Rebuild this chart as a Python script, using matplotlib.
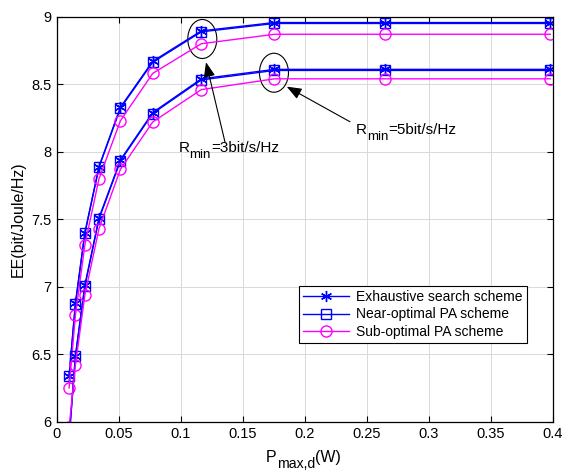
import numpy as np
import matplotlib
matplotlib.use("Agg")
import matplotlib.pyplot as plt
from matplotlib.patches import Ellipse

plt.rcParams["font.family"] = ["Liberation Sans", "DejaVu Sans"]

# P_max,d (W)
p_max = [0.01, 0.0151, 0.0227, 0.0341, 0.0514, 0.0774, 0.1166, 0.1756, 0.2644, 0.398]

# R_min = 3 bit/s/Hz
exh_r3 = [6.34, 6.88, 7.40, 7.89, 8.33, 8.67, 8.895, 8.957, 8.957, 8.957]
near_r3 = [6.335, 6.875, 7.395, 7.885, 8.322, 8.662, 8.888, 8.95, 8.95, 8.95]
sub_r3 = [6.25, 6.79, 7.31, 7.80, 8.23, 8.58, 8.80, 8.87, 8.87, 8.87]

# R_min = 5 bit/s/Hz
exh_r5 = [5.88, 6.49, 7.01, 7.51, 7.94, 8.29, 8.54, 8.61, 8.61, 8.61]
near_r5 = [5.875, 6.485, 7.005, 7.502, 7.932, 8.283, 8.532, 8.602, 8.602, 8.602]
sub_r5 = [5.96, 6.42, 6.94, 7.43, 7.87, 8.22, 8.46, 8.54, 8.54, 8.54]

blue = (0, 0, 1)
magenta = (1, 0, 1)
asterisk = (6, 2, 0)


def sub_text(ax, x, y, base, sub, rest, size, coords, drop=5):
    """MATLAB-style subscript: base, lowered sub, then rest back on the baseline."""
    t1 = ax.annotate(base, xy=(x, y), xycoords=coords, fontsize=size,
                     va="baseline", ha="left", annotation_clip=False)
    t2 = ax.annotate(sub, xy=(1, 0), xycoords=t1, xytext=(0, -drop),
                     textcoords="offset points", fontsize=size * 0.88,
                     va="bottom", ha="left", annotation_clip=False)
    t3 = ax.annotate(rest, xy=(1, 0), xycoords=(t2, t1), xytext=(0, 0),
                     textcoords="offset points", fontsize=size,
                     va="bottom", ha="left", annotation_clip=False)
    return t1, t2, t3


fig = plt.figure(figsize=(5.65, 4.71), dpi=100)
ax = fig.add_axes([0.1004, 0.1047, 0.8778, 0.8598])

for exh, near, sub in [(exh_r3, near_r3, sub_r3), (exh_r5, near_r5, sub_r5)]:
    ax.plot(p_max, exh, "-", color=blue, lw=1, marker=asterisk, ms=8, mew=1,
            label="Exhaustive search scheme")
    ax.plot(p_max, near, "-", color=blue, lw=1, marker="s", ms=7, mfc="none",
            mew=1, label="Near-optimal PA scheme")
    ax.plot(p_max, sub, "-", color=magenta, lw=1, marker="o", ms=8, mfc="none",
            mew=1, label="Sub-optimal PA scheme")

# ellipses marking the two R_min groups
ax.add_patch(Ellipse((0.1174, 8.835), 0.0234, 0.289, fill=False, ec="black", lw=0.8))
ax.add_patch(Ellipse((0.1752, 8.585), 0.0234, 0.289, fill=False, ec="black", lw=0.8))

arrow = dict(arrowstyle="-|>,head_length=0.9,head_width=0.35", color="black",
             lw=0.8, shrinkA=0, shrinkB=0)
ax.annotate("", xy=(0.1204, 8.663), xytext=(0.1358, 8.068), arrowprops=arrow)
sub_text(ax, 0.0983, 8.0, "R", "min", "=3bit/s/Hz", 11, "data", drop=4.5)
ax.annotate("", xy=(0.1855, 8.482), xytext=(0.2365, 8.222), arrowprops=arrow)
sub_text(ax, 0.2413, 8.13, "R", "min", "=5bit/s/Hz", 11, "data", drop=4.5)

ax.set_xlim(0, 0.4)
ax.set_ylim(6, 9)
ax.set_xticks(np.arange(0, 0.401, 0.05))
ax.set_xticklabels(["0", "0.05", "0.1", "0.15", "0.2", "0.25", "0.3", "0.35", "0.4"])
ax.set_yticks(np.arange(6, 9.01, 0.5))
ax.set_yticklabels(["6", "6.5", "7", "7.5", "8", "8.5", "9"])
ax.tick_params(direction="in", top=True, right=True, labelsize=10.5, length=4)
ax.grid(True, color="#d9d9d9", lw=0.7)
ax.set_axisbelow(True)
for s in ax.spines.values():
    s.set_linewidth(0.9)

# x label with lowered subscript, placed in figure pixels
sub_text(ax, 266, 471 - 462, "P", "max,d", "(W)", 11.5, "figure pixels", drop=4.5)
ax.set_ylabel("EE(bit/Joule/Hz)", fontsize=11.5, labelpad=4)

handles, labels = ax.get_legend_handles_labels()
leg = ax.legend(handles[:3], labels[:3], loc="lower right",
                bbox_to_anchor=(0.948, 0.194), fontsize=10, fancybox=False,
                framealpha=1, edgecolor="black", handlelength=3.3,
                borderpad=0.3, labelspacing=0.25, handletextpad=0.5,
                borderaxespad=0)
leg.get_frame().set_linewidth(0.8)

fig.savefig("out.png", dpi=100)
